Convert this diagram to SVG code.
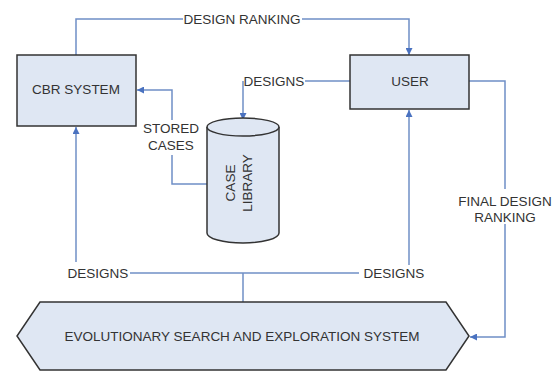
<svg xmlns="http://www.w3.org/2000/svg" width="556" height="372" viewBox="0 0 556 372">
<defs>
<style>
.node{fill:#dfe7f3;stroke:#333;stroke-width:1.5}
.c{fill:none;stroke:#6f8fc6;stroke-width:1.5}
text{font-family:"Liberation Sans",Arial,sans-serif;font-size:13.5px;fill:#333}
</style>
<marker id="a" viewBox="0 0 10 10" refX="10" refY="5" markerWidth="7" markerHeight="7" markerUnits="userSpaceOnUse" orient="auto"><path d="M0,0L10,5L0,10z" fill="#4a72c0"/></marker>
</defs>
<rect width="556" height="372" fill="#fff"/>
<g id="connectors">
<path class="c" d="M76,55V19H183"/>
<path class="c" d="M302,19H409V55" marker-end="url(#a)"/>
<path class="c" d="M350,81H305"/>
<path class="c" d="M243,81V120" marker-end="url(#a)"/>
<path class="c" d="M207,184H172V155"/>
<path class="c" d="M172,120V90H137" marker-end="url(#a)"/>
<path class="c" d="M76,262V127" marker-end="url(#a)"/>
<path class="c" d="M130,273H359"/>
<path class="c" d="M409,265V110" marker-end="url(#a)"/>
<path class="c" d="M243,273V302"/>
<path class="c" d="M469,81H505V189"/>
<path class="c" d="M505,224V337H470" marker-end="url(#a)"/>
<text x="242" y="24" text-anchor="middle">DESIGN RANKING</text>
<text x="274" y="86" text-anchor="middle">DESIGNS</text>
<text x="171" y="133" text-anchor="middle">STORED</text>
<text x="171" y="150" text-anchor="middle">CASES</text>
<text x="98" y="278" text-anchor="middle">DESIGNS</text>
<text x="394" y="278" text-anchor="middle">DESIGNS</text>
<text x="505" y="206" text-anchor="middle">FINAL DESIGN</text>
<text x="505" y="222" text-anchor="middle">RANKING</text>
</g>
<g id="cbr">
<rect class="node" x="17" y="55" width="119" height="71"/>
<text x="76" y="94" text-anchor="middle">CBR SYSTEM</text>
</g>
<g id="user">
<rect class="node" x="350" y="55" width="119" height="54"/>
<text x="410" y="86" text-anchor="middle">USER</text>
</g>
<g id="case-library">
<path class="node" d="M207,127A36,9 0 0 1 279,127V233A36,10 0 0 1 207,233Z"/>
<path class="node" d="M207,127A36,9 0 0 0 279,127" fill="none"/>
<text transform="translate(235,183) rotate(-90)" text-anchor="middle">CASE</text>
<text transform="translate(252,183) rotate(-90)" text-anchor="middle">LIBRARY</text>
</g>
<g id="evolutionary">
<path class="node" d="M40,302H446L469,336L446,370H40L17,336Z"/>
<text x="242" y="341" text-anchor="middle">EVOLUTIONARY SEARCH AND EXPLORATION SYSTEM</text>
</g>
</svg>
